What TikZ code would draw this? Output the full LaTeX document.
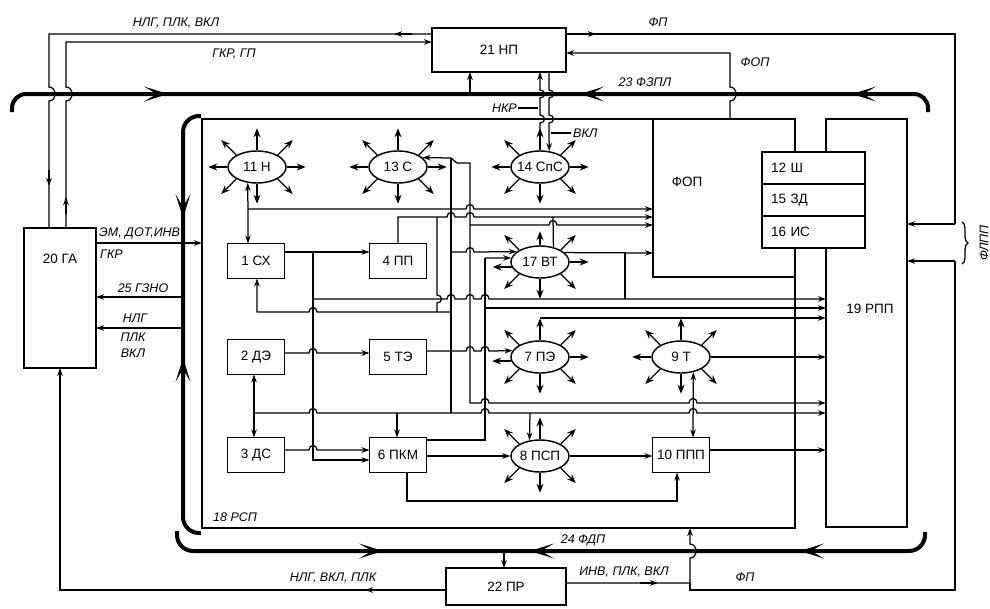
\documentclass[tikz,border=0pt]{standalone}
\usepackage{fontspec}
\setmainfont{Liberation Sans}
\usetikzlibrary{arrows.meta,shapes.geometric,decorations.pathreplacing}
\newcommand\myNF{\fontsize{13.5}{15}\selectfont}
\newcommand\myLF{\fontsize{12.5}{14}\selectfont\itshape}
\newcommand\zb[1]{\makebox[0pt]{#1}}
\newcommand\myrays[2]{\foreach \myA/\myX/\myY in {#2}{\draw[ray] (#1.\myA) -- ++(\myX,\myY);}}
\newcommand\busarrow[3]{\fill[shift={(#1,#2)},rotate=#3] (0,0) -- (-24,-7.5) .. controls (-18,-3) .. (-11,0) .. controls (-18,3) .. (-24,7.5) -- cycle;}
\begin{document}
\begin{tikzpicture}[x=1pt,y=-1pt,
 Ar/.tip={Stealth[length=8pt,width=5.5pt]},
 ln/.style={line width=1.25pt},
 arr/.style={ln,-Ar},
 ray/.style={line width=1.3pt,-{Stealth[length=9pt,width=7pt]}},
 fr/.style={draw,line width=1.45pt,inner sep=0pt},
 mybox/.style={fr,fill=white,minimum width=57pt,minimum height=35pt,font=\myNF},
 mystar/.style={ellipse,fr,fill=white,minimum width=58pt,minimum height=32pt,font=\myNF},
 bus/.style={line width=4pt},
 lab/.style={font=\myLF,inner sep=0pt},
 txt/.style={font=\myNF,inner sep=0pt},
 hh/.style args={#1/#2}{insert path={-- ({#1-4},#2) .. controls ({#1-4},{#2-6}) and ({#1+4},{#2-6}) .. ({#1+4},#2)}},
 hv/.style args={#1/#2}{insert path={-- (#1,{#2-4}) .. controls ({#1+6},{#2-4}) and ({#1+6},{#2+4}) .. (#1,{#2+4})}},
 hb/.style args={#1/#2}{insert path={-- (#1,{#2-7}) .. controls ({#1+8},{#2-7}) and ({#1+8},{#2+7}) .. (#1,{#2+7})}},
]
\useasboundingbox (0,0) rectangle (990,608);

% frames
\node[fr,minimum width=593pt,minimum height=409pt] (rsp) at (498.5,323.5) {};
\node[fr,minimum width=142pt,minimum height=158pt] (fop) at (724,198) {};
\node[fr,minimum width=81pt,minimum height=408pt] (rpp) at (866.5,323) {};
\node[fr,fill=white,minimum width=72pt,minimum height=140pt] (ga) at (60,298) {};
\node[fr,fill=white,minimum width=134pt,minimum height=44pt,font=\myNF] (np) at (499,50) {21 НП};
\node[fr,fill=white,minimum width=120pt,minimum height=37pt,font=\myNF] (pr) at (506,586.5) {22 ПР};
\node[fr,fill=white,minimum width=103pt,minimum height=32pt,text width=85pt,align=left,font=\myNF] (sh) at (813.5,168) {12 Ш};
\node[fr,fill=white,minimum width=103pt,minimum height=32pt,text width=85pt,align=left,font=\myNF] (zd) at (813.5,200) {15 ЗД};
\node[fr,fill=white,minimum width=103pt,minimum height=32pt,text width=85pt,align=left,font=\myNF] (is) at (813.5,232) {16 ИС};

\node[txt] (gat) at (60,259) {20 ГА};
\node[txt] (fopt) at (687,182) {ФОП};
\node[txt] (rppt) at (870,309) {19 РПП};
\node[lab,anchor=west] (rspt) at (213,517) {18 РСП};

% stars and boxes
\node[mystar] (s11) at (257,167) {\zb{11 Н}};
\node[mystar] (s13) at (398,167) {\zb{13 С}};
\node[mystar] (s14) at (540,167) {\zb{14 СпС}};
\node[mystar] (s17) at (540,262) {\zb{17 ВТ}};
\node[mystar] (s7) at (540,357) {\zb{7 ПЭ}};
\node[mystar] (s9) at (681,357) {\zb{9 Т}};
\node[mystar] (s8) at (540,456) {\zb{8 ПСП}};
\node[mybox] (n1) at (256,261) {1 СХ};
\node[mybox] (n4) at (398,261) {4 ПП};
\node[mybox] (n2) at (256,357) {2 ДЭ};
\node[mybox] (n5) at (398,357) {5 ТЭ};
\node[mybox] (n3) at (256,455) {3 ДС};
\node[mybox] (n6) at (398,455) {6 ПКМ};
\node[mybox] (n10) at (681,455) {10 ППП};

% rays
\myrays{s11}{90/0/-22,270/0/20,0/19/0,180/-19/0,30/15/-15,150/-15/-15,210/-15/15,330/15/15}
\myrays{s13}{90/0/-22,270/0/20,0/19/0,180/-19/0,30/15/-15,150/-15/-15,210/-15/15,330/15/15}
\myrays{s14}{90/0/-22,270/0/20,0/19/0,180/-19/0,30/15/-15,150/-15/-15,210/-15/15,330/15/15}
\myrays{s17}{90/0/-14,270/0/20,0/19/0,190/-19/0,30/15/-15,150/-15/-15,210/-15/15,330/15/15}
\myrays{s7}{90/0/-22,270/0/20,0/19/0,188/-19/0,30/15/-15,150/-15/-15,210/-15/15,330/15/15}
\myrays{s9}{90/0/-22,270/0/20,180/-19/0,30/15/-15,150/-15/-15,210/-15/15,330/15/15}
\myrays{s8}{90/0/-22,270/0/20,30/15/-15,150/-15/-15,210/-15/15,330/15/15}

% outer connections
\draw[ln] (432,34) -- (49,34) [hb=49/94] -- (49,228);
\draw[arr] (412,34) -- (394,34);
\draw[arr] (49,170) -- (49,186);
\draw[ln,Ar-] (432,42) -- (66,42) [hb=66/94] -- (66,228);
\draw[arr] (66,214) -- (66,197);
\draw[ln] (566,34) -- (955,34) -- (955,224);
\draw[arr] (955,224) -- (907,224);
\draw[arr] (578,34) -- (596,34);
\draw[arr] (955,261) -- (907,261);
\draw[ln] (955,261) -- (955,590) -- (690,590) -- (690,583);
\draw[ln,Ar-] (690,528) [hb=690/551] -- (690,583) -- (566,583);
\draw[arr] (640,583) -- (658,583);
\draw[arr] (446,590) -- (60,590) -- (60,368);
\draw[arr] (382,590) -- (365,590);
\draw[ln,Ar-] (566,53) -- (730,53) [hb=730/94] -- (730,119);
\draw[arr] (470,94) -- (470,72);
\draw[arr] (504,551) -- (504,568);
\draw[ln,Ar-] (540,72) [hv=540/94] [hv=540/119] -- (540,130);
\draw[arr] (549,72) [hv=549/94] [hv=549/119] -- (s14.60);
\draw[ln] (518,108) -- (538,108);
\draw[ln] (551,133) -- (571,133);

% GA links
\draw[arr] (96,243) -- (202,243);
\draw[arr] (183,297) -- (96,297);
\draw[arr] (183,328) -- (96,328);

% inner connections
\draw[ln,Ar-Ar] (s11.240) -- (248,243.5);
\draw[arr] (248,209) [hh=470/209] -- (653,209);
\draw[arr] (398,243.5) -- (398,217) [hh=451/217] [hh=470/217] -- (653,217);
\draw[ln] (437,217) [hv=437/299] -- (437,312);
\draw[ln] (451,158) -- (451,413);
\draw[arr] (451,158) -- (s13.21);
\draw[arr] (451,158) -- (457,163) -- (470,163) -- (470,403) [hh=485/403] [hh=693/403] -- (826,403);
\draw[arr] (470,225) [hh=553/225] -- (653,225);
\draw[ln] (553,217) -- (s17.48);
\draw[arr] (284.5,252) -- (369.5,252);
\draw[arr] (313,252) -- (313,460) -- (369.5,460);
\draw[arr] (451,252) [hh=470/252] -- (s17.156);
\draw[arr] (485,258) -- (s17.172);
\draw[ln] (485,258) -- (485,440) -- (426.5,440);
\draw[arr] (s17.21) -- (653,253);
\draw[ln] (625,253) -- (625,299);
\draw[arr] (313,299) [hh=451/299] [hh=470/299] [hh=485/299] -- (826,299);
\draw[arr] (485,308) -- (826,308);
\draw[ln,Ar-] (257,278.5) -- (257,312) [hh=313/312] -- (451,312);
\draw[arr] (540,318) -- (826,318);
\draw[arr] (284.5,353) [hh=313/353] -- (369.5,353);
\draw[arr] (426.5,351) [hh=470/351] [hh=485/351] -- (s7.167);
\draw[arr] (s9.east) -- (826,357);
\draw[arr] (254,413) [hh=313/413] [hh=485/413] [hh=693/413] -- (826,413);
\draw[ln,Ar-Ar] (254,374.5) -- (254,437.5);
\draw[arr] (397,413) -- (397,437.5);
\draw[arr] (530,413) -- (s8.124);
\draw[arr] (284.5,450) [hh=313/450] -- (369.5,450);
\draw[arr] (426.5,456) -- (s8.west);
\draw[arr] (s8.east) -- (652.5,456);
\draw[arr] (709.5,450) -- (826,450);
\draw[arr] (407,472.5) -- (407,501) -- (677,501) -- (677,472.5);
\draw[ln,Ar-Ar] (s9.309) -- (693,437.5);

% buses
\draw[bus,rounded corners=14pt] (12,112) |- (470,94) -| (928,112);
\busarrow{168}{94}{0}
\busarrow{580}{94}{180}
\busarrow{852}{94}{180}
\draw[bus,rounded corners=16pt] (201,116) -| (183,320) |- (201,533);
\busarrow{183}{218}{-90}
\busarrow{183}{358}{90}
\draw[bus,rounded corners=16pt] (177,531) |- (500,551) -| (925,532);
\busarrow{383}{551}{0}
\busarrow{530}{551}{180}
\busarrow{800}{551}{180}

% labels
\node[lab] (l1) at (176,23) {НЛГ, ПЛК, ВКЛ};
\node[lab] (l2) at (234,54) {ГКР, ГП};
\node[lab] (l3) at (658,22) {ФП};
\node[lab] (l4) at (755,62) {ФОП};
\node[lab] (l5) at (645,82) {23 ФЗПЛ};
\node[lab,anchor=east] (l6) at (517,108) {НКР};
\node[lab,anchor=west] (l7) at (573,133) {ВКЛ};
\node[lab,anchor=west] (l8) at (99,233) {ЭМ, ДОТ,ИНВ};
\node[lab,anchor=west] (l9) at (100,254) {ГКР};
\node[lab] (l10) at (143,288) {25 ГЗНО};
\node[lab] (l11) at (135,318) {НЛГ};
\node[lab] (l12) at (133,337) {ПЛК};
\node[lab] (l13) at (133,353) {ВКЛ};
\node[lab] (l14) at (583,540) {24 ФДП};
\node[lab] (l15) at (333,578) {НЛГ, ВКЛ, ПЛК};
\node[lab] (l16) at (624,572) {ИНВ, ПЛК, ВКЛ};
\node[lab] (l17) at (745,577) {ФП};
\node[lab,rotate=90] (l18) at (984,243) {ФЛПП};
\draw[ln,decorate,decoration={brace,amplitude=6pt}] (962,222) -- (962,264);
\end{tikzpicture}
\end{document}
